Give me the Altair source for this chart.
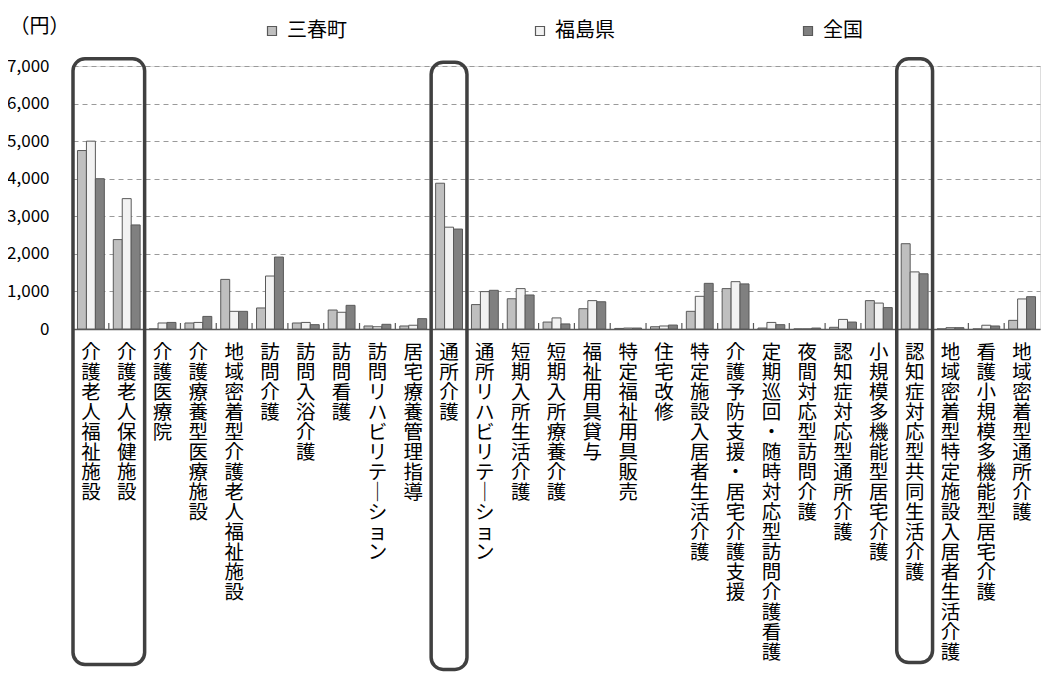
import altair as alt
import pandas as pd

categories = [
    "介護老人福祉施設", "介護老人保健施設", "介護医療院", "介護療養型医療施設",
    "地域密着型介護老人福祉施設", "訪問介護", "訪問入浴介護", "訪問看護",
    "訪問リハビリテーション", "居宅療養管理指導", "通所介護", "通所リハビリテーション",
    "短期入所生活介護", "短期入所療養介護", "福祉用具貸与", "特定福祉用具販売",
    "住宅改修", "特定施設入居者生活介護", "介護予防支援・居宅介護支援",
    "定期巡回・随時対応型訪問介護看護", "夜間対応型訪問介護", "認知症対応型通所介護",
    "小規模多機能型居宅介護", "認知症対応型共同生活介護",
    "地域密着型特定施設入居者生活介護", "看護小規模多機能型居宅介護", "地域密着型通所介護",
]
series = ["三春町", "福島県", "全国"]
miharu = [4750, 2380, 0, 160, 1320, 560, 160, 505, 80, 80, 3880, 650, 805, 185, 540,
          15, 60, 470, 1075, 25, 0, 45, 755, 2270, 0, 0, 230]
fukushima = [5000, 3470, 160, 175, 470, 1410, 175, 445, 60, 100, 2710, 995, 1075, 295, 755,
             25, 80, 870, 1260, 175, 0, 255, 690, 1520, 35, 100, 800]
zenkoku = [4000, 2770, 175, 335, 470, 1915, 115, 630, 125, 275, 2660, 1030, 905, 135, 725,
           25, 105, 1215, 1200, 115, 25, 185, 570, 1470, 35, 80, 860]
colors = ["#BFBFBF", "#F2F2F2", "#808080"]

# highlighted groups (category index ranges) and their vertical extent in yen units
box_start = [0, 10, 23]
box_end = [2, 11, 24]
box_top = [7190, 7100, 7190]
box_bottom = [-8930, -9060, -8875]

rows = []
for s, vals in zip(series, [miharu, fukushima, zenkoku]):
    for c, v in zip(categories, vals):
        rows.append({"cat": c, "series": s, "value": v})
df = pd.DataFrame(rows)

boxes = pd.DataFrame({"x0": box_start, "x1": box_end, "y0": box_bottom, "y1": box_top})
ticks = pd.DataFrame({"i": list(range(1, len(categories))),
                      "t0": [0] * (len(categories) - 1),
                      "t1": [160] * (len(categories) - 1)})

FONT = "Noto Sans CJK JP"
n = len(categories)
ydom = [0, 7000]

yaxis = alt.Axis(title="（円）", titleAngle=0, titleAlign="left",
                 titleBaseline="middle", titleX=-64, titleY=-40,
                 titleFont=FONT, titleFontSize=20, titleFontWeight="normal",
                 titleColor="#000000",
                 values=list(range(0, 7001, 1000)), format=",d",
                 labelFont=FONT, labelFontSize=17, labelColor="#000000",
                 labelPadding=24, ticks=False, domain=False,
                 grid=True, gridColor="#9A9A9A", gridDash=[5, 4], gridWidth=1)
yscale = alt.Scale(domain=ydom, nice=False)
lscale = alt.Scale(domain=[0, n], nice=False, zero=False)

bars = alt.Chart(df).mark_bar(stroke="#595959", strokeWidth=1).encode(
    x=alt.X("cat:N", sort=categories, title=None,
            scale=alt.Scale(paddingInner=0.25, paddingOuter=0.125),
            axis=alt.Axis(labelExpr="split(replace(datum.label, 'ー', '｜'), '')",
                          labelAngle=0, labelAlign="center", labelBaseline="top",
                          labelFontSize=19.5, labelLineHeight=20, labelColor="#000000",
                          labelFont=FONT, labelPadding=14, labelLimit=0,
                          labelOverlap=False, ticks=False, domainColor="#595959",
                          domainWidth=1.5, grid=False)),
    xOffset=alt.XOffset("series:N", sort=series),
    y=alt.Y("value:Q", scale=yscale, axis=yaxis),
    color=alt.Color("series:N", sort=series,
                    scale=alt.Scale(domain=series, range=colors),
                    legend=alt.Legend(title=None, orient="none", legendX=189, legendY=-45,
                                      direction="horizontal", columns=3, columnPadding=183,
                                      symbolType="square", symbolSize=81,
                                      symbolStrokeColor="#595959", symbolStrokeWidth=1.2,
                                      labelFont=FONT, labelFontSize=20, labelColor="#000000",
                                      labelOffset=5)),
)

tick_layer = alt.Chart(ticks).mark_rule(color="#595959", strokeWidth=1.2).encode(
    x=alt.X("i:Q", scale=lscale, axis=None),
    y=alt.Y("t0:Q", scale=yscale, axis=yaxis),
    y2=alt.Y2("t1:Q"),
)

box_layer = alt.Chart(boxes).mark_rect(
    fillOpacity=0, stroke="#404040", strokeWidth=3.5, cornerRadius=12
).encode(
    x=alt.X("x0:Q", scale=lscale, axis=None),
    x2=alt.X2("x1:Q"),
    y=alt.Y("y0:Q", scale=yscale, axis=yaxis),
    y2=alt.Y2("y1:Q"),
)

chart = alt.layer(bars, tick_layer, box_layer).resolve_scale(
    x="independent"
).properties(
    width=967, height=263,
    autosize=alt.AutoSizeParams(type="none"),
    padding={"left": 65, "top": 58, "right": 2, "bottom": 345},
).configure_view(stroke=None).configure(font=FONT)

chart.save("out.html", embed_options={"renderer": "svg", "actions": False})
